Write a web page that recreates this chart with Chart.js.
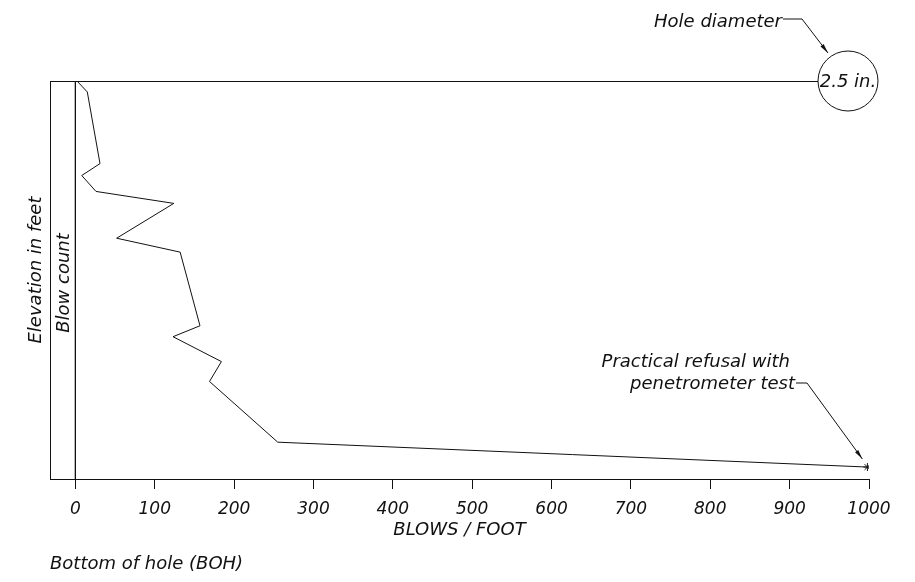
<!DOCTYPE html>
<html>
<head>
<meta charset="utf-8">
<title>Blow count log</title>
<script src="https://cdn.jsdelivr.net/npm/chart.js@4.4.1/dist/chart.umd.min.js"></script>
<style>
  html, body { margin: 0; padding: 0; background: #fff; }
  #wrap { width: 915px; height: 582px; }
</style>
</head>
<body>
<div id="wrap"><canvas id="log" width="915" height="582"></canvas></div>
<script>
const blows = [2, 15, 31, 8, 26, 124, 52, 132, 157, 123, 184, 169, 255, 998];
// depth below top of hole (ft)
const depthFt = [0, 1.1, 8.3, 9.5, 11.1, 12.3, 15.8, 17.2, 24.6, 25.7, 28.2, 30.2, 36.3, 38.8];
const xTicks = [0, 100, 200, 300, 400, 500, 600, 700, 800, 900, 1000];
const holeDiameter = '2.5 in.';

const FONT = 'DejaVu Sans';
const INK = '#111';

function arrow(ctx, pts) {
    ctx.beginPath();
    ctx.moveTo(pts[0][0], pts[0][1]);
    for (let i = 1; i < pts.length; i++) ctx.lineTo(pts[i][0], pts[i][1]);
    ctx.stroke();
    const [x1, y1] = pts[pts.length - 2];
    const [x2, y2] = pts[pts.length - 1];
    const a = Math.atan2(y2 - y1, x2 - x1);
    ctx.beginPath();
    ctx.moveTo(x2, y2);
    ctx.lineTo(x2 - 10 * Math.cos(a - 0.2), y2 - 10 * Math.sin(a - 0.2));
    ctx.lineTo(x2 - 10 * Math.cos(a + 0.2), y2 - 10 * Math.sin(a + 0.2));
    ctx.closePath();
    ctx.fill();
}

// frame, hole-diameter bubble and the notes around the log
const notes = {
    id: 'notes',
    afterDraw(chart) {
        const { ctx, chartArea: ca, scales } = chart;
        const top = scales.y.getPixelForValue(0);
        ctx.save();
        ctx.strokeStyle = INK;
        ctx.fillStyle = INK;
        ctx.lineWidth = 1;

        // left edge
        ctx.beginPath();
        ctx.moveTo(ca.left + 0.5, ca.top);
        ctx.lineTo(ca.left + 0.5, ca.bottom);
        ctx.stroke();

        // ground line up to the bubble
        const cx = ca.right - 21, r = 30;
        ctx.beginPath();
        ctx.moveTo(ca.left, top + 0.5);
        ctx.lineTo(cx - r, top + 0.5);
        ctx.stroke();

        ctx.beginPath();
        ctx.arc(cx, top, r, 0, Math.PI * 2);
        ctx.fillStyle = '#fff';
        ctx.fill();
        ctx.stroke();
        ctx.fillStyle = INK;

        ctx.font = 'italic 18px "' + FONT + '"';
        ctx.textBaseline = 'middle';
        ctx.textAlign = 'center';
        ctx.fillText(holeDiameter, cx, top + 1);

        ctx.textAlign = 'right';
        ctx.fillText('Hole diameter', 782, 22);
        arrow(ctx, [[783, 19], [802, 19], [828, 53]]);

        // refusal note, pointing at the last reading
        const last = blows.length - 1;
        const px = scales.x.getPixelForValue(blows[last]);
        const py = scales.y.getPixelForValue(depthFt[last]);
        ctx.fillText('Practical refusal with', 790, 362);
        ctx.fillText('penetrometer test', 795, 384);
        arrow(ctx, [[796, 383], [807, 383], [px - 5, py - 8]]);

        ctx.textAlign = 'left';
        ctx.fillText('Bottom of hole (BOH)', 50, 564);

        // rotated column headings
        ctx.textAlign = 'center';
        ctx.save();
        ctx.translate(36, 270);
        ctx.rotate(-Math.PI / 2);
        ctx.fillText('Elevation in feet', 0, 0);
        ctx.restore();
        ctx.save();
        ctx.translate(64, 283);
        ctx.rotate(-Math.PI / 2);
        ctx.fillText('Blow count', 0, 0);
        ctx.restore();

        ctx.restore();
    }
};

const pointsLog = blows.map((b, i) => ({ x: b, y: depthFt[i] }));

new Chart(document.getElementById('log'), {
    type: 'scatter',
    data: {
        datasets: [
            {
                label: 'Blow count',
                data: pointsLog,
                showLine: true,
                borderColor: INK,
                borderWidth: 1,
                pointRadius: pointsLog.map((p, i) => i === pointsLog.length - 1 ? 4 : 0),
                pointStyle: 'star',
                pointBorderColor: INK,
                pointBorderWidth: 1,
                tension: 0
            },
            {
                label: 'Zero',
                data: [{ x: 0, y: 0 }, { x: 0, y: 40 }],
                showLine: true,
                borderColor: INK,
                borderWidth: 1,
                pointRadius: 0
            }
        ]
    },
    options: {
        responsive: false,
        animation: false,
        layout: { padding: { left: 50, right: 46, top: 81, bottom: 41 } },
        plugins: {
            legend: { display: false },
            tooltip: { enabled: false }
        },
        scales: {
            x: {
                type: 'linear',
                min: -32,
                max: 1000,
                afterBuildTicks(axis) {
                    axis.ticks = xTicks.map(v => ({ value: v }));
                },
                grid: {
                    drawOnChartArea: false,
                    drawTicks: true,
                    tickLength: 10,
                    color: INK
                },
                border: { display: true, color: INK, width: 1 },
                ticks: {
                    color: INK,
                    padding: 10,
                    maxRotation: 0,
                    callback: v => String(v),
                    font: { family: FONT, size: 17, style: 'italic' }
                },
                title: {
                    display: true,
                    text: 'BLOWS / FOOT',
                    color: INK,
                    padding: { top: -10, bottom: 0 },
                    font: { family: FONT, size: 18, style: 'italic' }
                }
            },
            y: {
                type: 'linear',
                display: false,
                reverse: true,
                min: 0,
                max: 40
            }
        }
    },
    plugins: [notes]
});
</script>
</body>
</html>
